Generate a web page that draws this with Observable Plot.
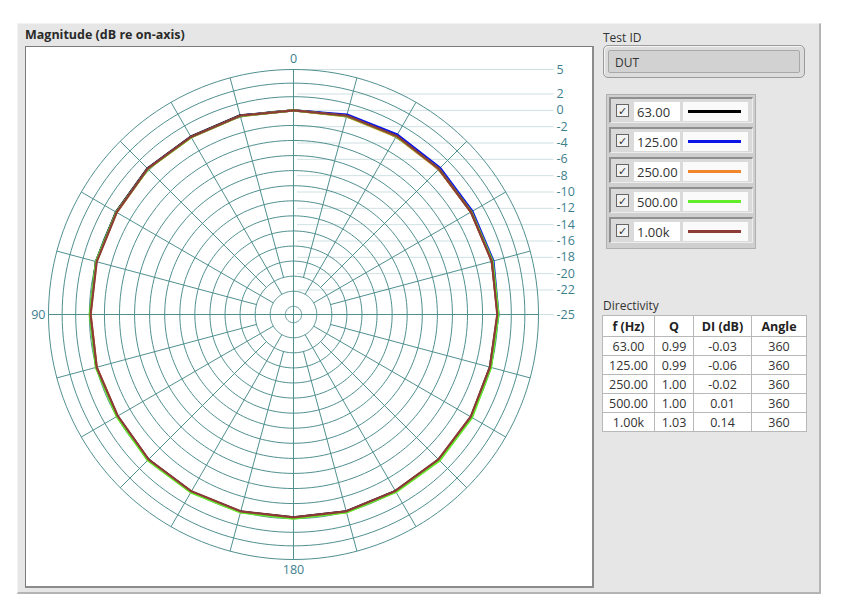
<!DOCTYPE html>
<html>
<head>
<meta charset="utf-8">
<script src="https://cdn.jsdelivr.net/npm/d3@7"></script>
<script src="https://cdn.jsdelivr.net/npm/@observablehq/plot@0.6"></script>
<style>
  html, body { margin: 0; padding: 0; background: #ffffff; width: 845px; height: 616px; overflow: hidden; }
  body { font-family: "Open Sans", "Noto Sans", sans-serif; color: #222; position: relative; }
  .abs { position: absolute; box-sizing: border-box; }
  #panel { left: 17px; top: 23px; width: 804px; height: 571px; background: #e6e6e6;
           border-top: 1px solid #f2f2f2; border-left: 1px solid #f2f2f2;
           border-right: 2px solid #b4b4b4; border-bottom: 2px solid #b4b4b4; }
  #title { left: 25px; top: 26px; font-size: 12.5px; font-weight: 700; color: #2a2a2a; white-space: nowrap; }
  #plotbox { left: 25px; top: 46px; width: 569px; height: 542px; background: #fff;
             border-top: 1px solid #7a7a7a; border-left: 1px solid #7a7a7a;
             border-right: 2px solid #8c8c8c; border-bottom: 2px solid #8c8c8c; }
  #chart { left: 25px; top: 46px; width: 568px; height: 541px; }
  .lbl { font-size: 12px; color: #333; white-space: nowrap; }
  #testbox { left: 603px; top: 45px; width: 202px; height: 33px; border-radius: 5px; background: #dcdcdc;
             border: 1px solid #9a9a9a; box-shadow: inset 1px 1px 0 #f4f4f4; }
  #testinner { left: 608px; top: 50px; width: 192px; height: 23px; background: #d2d2d2;
               border: 1px solid #a8a8a8; border-radius: 2px; font-size: 12px; padding: 3px 0 0 6px; color:#333; }
  #legend { left: 606px; top: 94px; width: 150px; height: 155px; background: #cfcfcf;
            border: 1px solid #b0b0b0; }
  .row { left: 609px; width: 144px; height: 26px; background: #dadada;
         border-top: 2px solid #8f8f8f; border-left: 2px solid #8f8f8f;
         border-bottom: 1px solid #ededed; border-right: 1px solid #ededed; }
  .chk { width: 13px; height: 13px; background: #f2f2f2; border: 1px solid #666; font-size: 11px; line-height: 11px; text-align: center; color: #333; }
  .val { width: 46px; height: 19px; background: #fff; font-size: 13px; overflow: hidden; white-space: nowrap; padding: 1px 0 0 3px; color: #333; }
  .swbox { width: 65px; height: 19px; background: #fafafa; }
  .sw { height: 3px; }
  #dirtable { left: 602px; top: 315px; border-collapse: collapse; font-size: 12.5px; background: #fff; border: 1px solid #8a8a8a; }
  #dirtable td, #dirtable th { border: 1px solid #b8b8b8; text-align: center; padding: 0; height: 18px; color: #333; }
  #dirtable th { height: 20px; font-weight: 700; color: #222; }
</style>
</head>
<body>
<div id="panel" class="abs"></div>
<div id="title" class="abs">Magnitude (dB re on-axis)</div>
<div id="plotbox" class="abs"></div>
<div id="chart" class="abs"></div>
<div class="abs lbl" style="left:603px; top:29px;">Test ID</div>
<div id="testbox" class="abs"></div>
<div id="testinner" class="abs">DUT</div>
<div id="legend" class="abs"></div>
<div id="legendRows"></div>
<div class="abs lbl" style="left:603px; top:297px;">Directivity</div>
<table id="dirtable" class="abs"></table>
<script>
// ---------------- data ----------------
const angles = [0, 15, 30, 45, 60, 75, 90, 105, 120, 135, 150, 165, 180, 195, 210, 225, 240, 255, 270, 285, 300, 315, 330, 345];
const freqLabels = ["63.00", "125.00", "250.00", "500.00", "1.00k"];
const seriesColors = ["#000000", "#0a14e6", "#f0852a", "#62ec2a", "#8c3b36"];
const mag63  = [0.0, 0.25, 0.15, 0.3, 0.1, 0.05, -0.1, 0.0, -0.1, 0.15, 0.05, 0.0, -0.15, -0.05, -0.05, 0.15, 0.1, -0.1, 0.0, 0.15, 0.1, 0.2, 0.25, 0.2];
const mag125 = [0.0, 0.2, 0.1, 0.25, 0.05, 0.05, -0.1, 0.0, -0.1, 0.15, 0.05, 0.0, -0.1, 0.0, 0.0, 0.2, 0.15, 0.0, 0.1, 0.35, 0.3, 0.4, 0.45, 0.35];
const mag250 = [0.0, 0.15, 0.05, 0.2, 0.0, 0.0, -0.15, -0.05, -0.1, 0.2, 0.1, 0.05, -0.05, 0.05, 0.05, 0.25, 0.15, -0.05, 0.0, 0.15, 0.1, 0.15, 0.15, 0.1];
const mag500 = [0.0, 0.15, 0.05, 0.2, 0.05, 0.05, -0.05, 0.05, 0.0, 0.25, 0.15, 0.1, 0.0, 0.1, 0.1, 0.3, 0.25, 0.05, 0.1, 0.25, 0.15, 0.2, 0.2, 0.15];
const mag1k  = [0.0, 0.2, 0.1, 0.25, 0.0, -0.05, -0.15, -0.05, -0.15, 0.1, 0.0, -0.05, -0.15, -0.05, -0.05, 0.1, 0.05, -0.1, -0.05, 0.15, 0.1, 0.2, 0.25, 0.2];
const seriesValues = [mag63, mag125, mag250, mag500, mag1k];

const radialTicks = [5, 2, 0, -2, -4, -6, -8, -10, -12, -14, -16, -18, -20, -22, -25];
const ringLevels = [-24, -22.15, -20.31, -18.46, -16.62, -14.77, -12.92, -11.08, -9.23, -7.38, -5.54, -3.69, -1.85, 0, 1.67, 3.33, 5];
const spokeAngles = angles;
const angleLabels = [0, 90, 180];
const dbMin = -25, dbMax = 5;

const tableHeader = ["f (Hz)", "Q", "DI (dB)", "Angle"];
const tableF = ["63.00", "125.00", "250.00", "500.00", "1.00k"];
const tableQ = ["0.99", "0.99", "1.00", "1.00", "1.03"];
const tableDI = ["-0.03", "-0.06", "-0.02", "0.01", "0.14"];
const tableAngle = ["360", "360", "360", "360", "360"];

// ---------------- geometry helpers (polar -> cartesian in data units) ----------------
const rad = a => a * Math.PI / 180;
const rOf = db => db - dbMin;
const px = (db, a) => -rOf(db) * Math.sin(rad(a));   // 0 at top, 90 to the left
const py = (db, a) => rOf(db) * Math.cos(rad(a));

// rings
const ringPts = [];
for (const L of ringLevels) for (let a = 0; a < 360; a += 2) ringPts.push({L, a});
// spokes
const spokes = spokeAngles.map(a => ({a, r0: a % 90 === 0 ? dbMin : (a % 30 === 0 ? ringLevels[1] : ringLevels[2])}));
// traces
const traces = [];
seriesValues.forEach((vals, i) => vals.forEach((v, j) => traces.push({f: freqLabels[i], a: angles[j], v})));

const R = rOf(dbMax);
const gridColor = "#50908f";
const labelColor = "#3e7f8e";
const tickLabelX = 32.2;
const lineEnd = 31.9;

const chart = Plot.plot({
  width: 568, height: 541,
  margin: 0,
  x: {domain: [-R, R], range: [23, 513], axis: null},
  y: {domain: [-R, R], range: [513, 23], axis: null},
  color: {domain: freqLabels, range: seriesColors},
  style: {fontFamily: "'Open Sans', 'Noto Sans', sans-serif", background: "transparent"},
  marks: [
    Plot.ruleY(radialTicks, {y: d => rOf(d), x1: 0.5, x2: lineEnd, stroke: "#cfe0e2", strokeWidth: 1}),
    Plot.line(ringPts, {x: d => px(d.L, d.a), y: d => py(d.L, d.a), z: "L", curve: "linear-closed", stroke: gridColor, strokeWidth: 1}),
    Plot.link(spokes, {x1: d => px(d.r0, d.a), y1: d => py(d.r0, d.a), x2: d => px(dbMax, d.a), y2: d => py(dbMax, d.a), stroke: gridColor, strokeWidth: 1}),
    Plot.line(traces, {x: d => px(d.v, d.a), y: d => py(d.v, d.a), z: "f", stroke: "f", curve: "linear-closed", strokeWidth: 2.2}),
    Plot.text(radialTicks, {x: tickLabelX, y: d => rOf(d), text: d => String(d), textAnchor: "start", fill: labelColor, fontSize: 12.5}),
    Plot.text(angleLabels, {x: a => px(dbMax + 1.25, a), y: a => py(dbMax + 1.25, a), text: a => String(a), fill: labelColor, fontSize: 12.5})
  ]
});
document.getElementById("chart").appendChild(chart);

// ---------------- legend (plot visibility list) ----------------
const lr = document.getElementById("legendRows");
freqLabels.forEach((f, i) => {
  const top = 97 + i * 30;
  lr.insertAdjacentHTML("beforeend",
    `<div class="abs row" style="top:${top}px;"></div>
     <div class="abs chk" style="left:616px; top:${top + 7}px;">✓</div>
     <div class="abs val" style="left:634px; top:${top + 5}px;">${f}</div>
     <div class="abs swbox" style="left:683px; top:${top + 5}px;"></div>
     <div class="abs sw" style="left:688px; width:53px; top:${top + 13}px; background:${seriesColors[i]};"></div>`);
});

// ---------------- directivity table ----------------
const tbl = document.getElementById("dirtable");
const widths = [51, 38, 57, 54];
let html = "<tr>" + tableHeader.map((h, i) => `<th style="width:${widths[i]}px">${h}</th>`).join("") + "</tr>";
tableF.forEach((f, i) => {
  html += `<tr><td>${f}</td><td>${tableQ[i]}</td><td>${tableDI[i]}</td><td>${tableAngle[i]}</td></tr>`;
});
tbl.innerHTML = html;
</script>
</body>
</html>
